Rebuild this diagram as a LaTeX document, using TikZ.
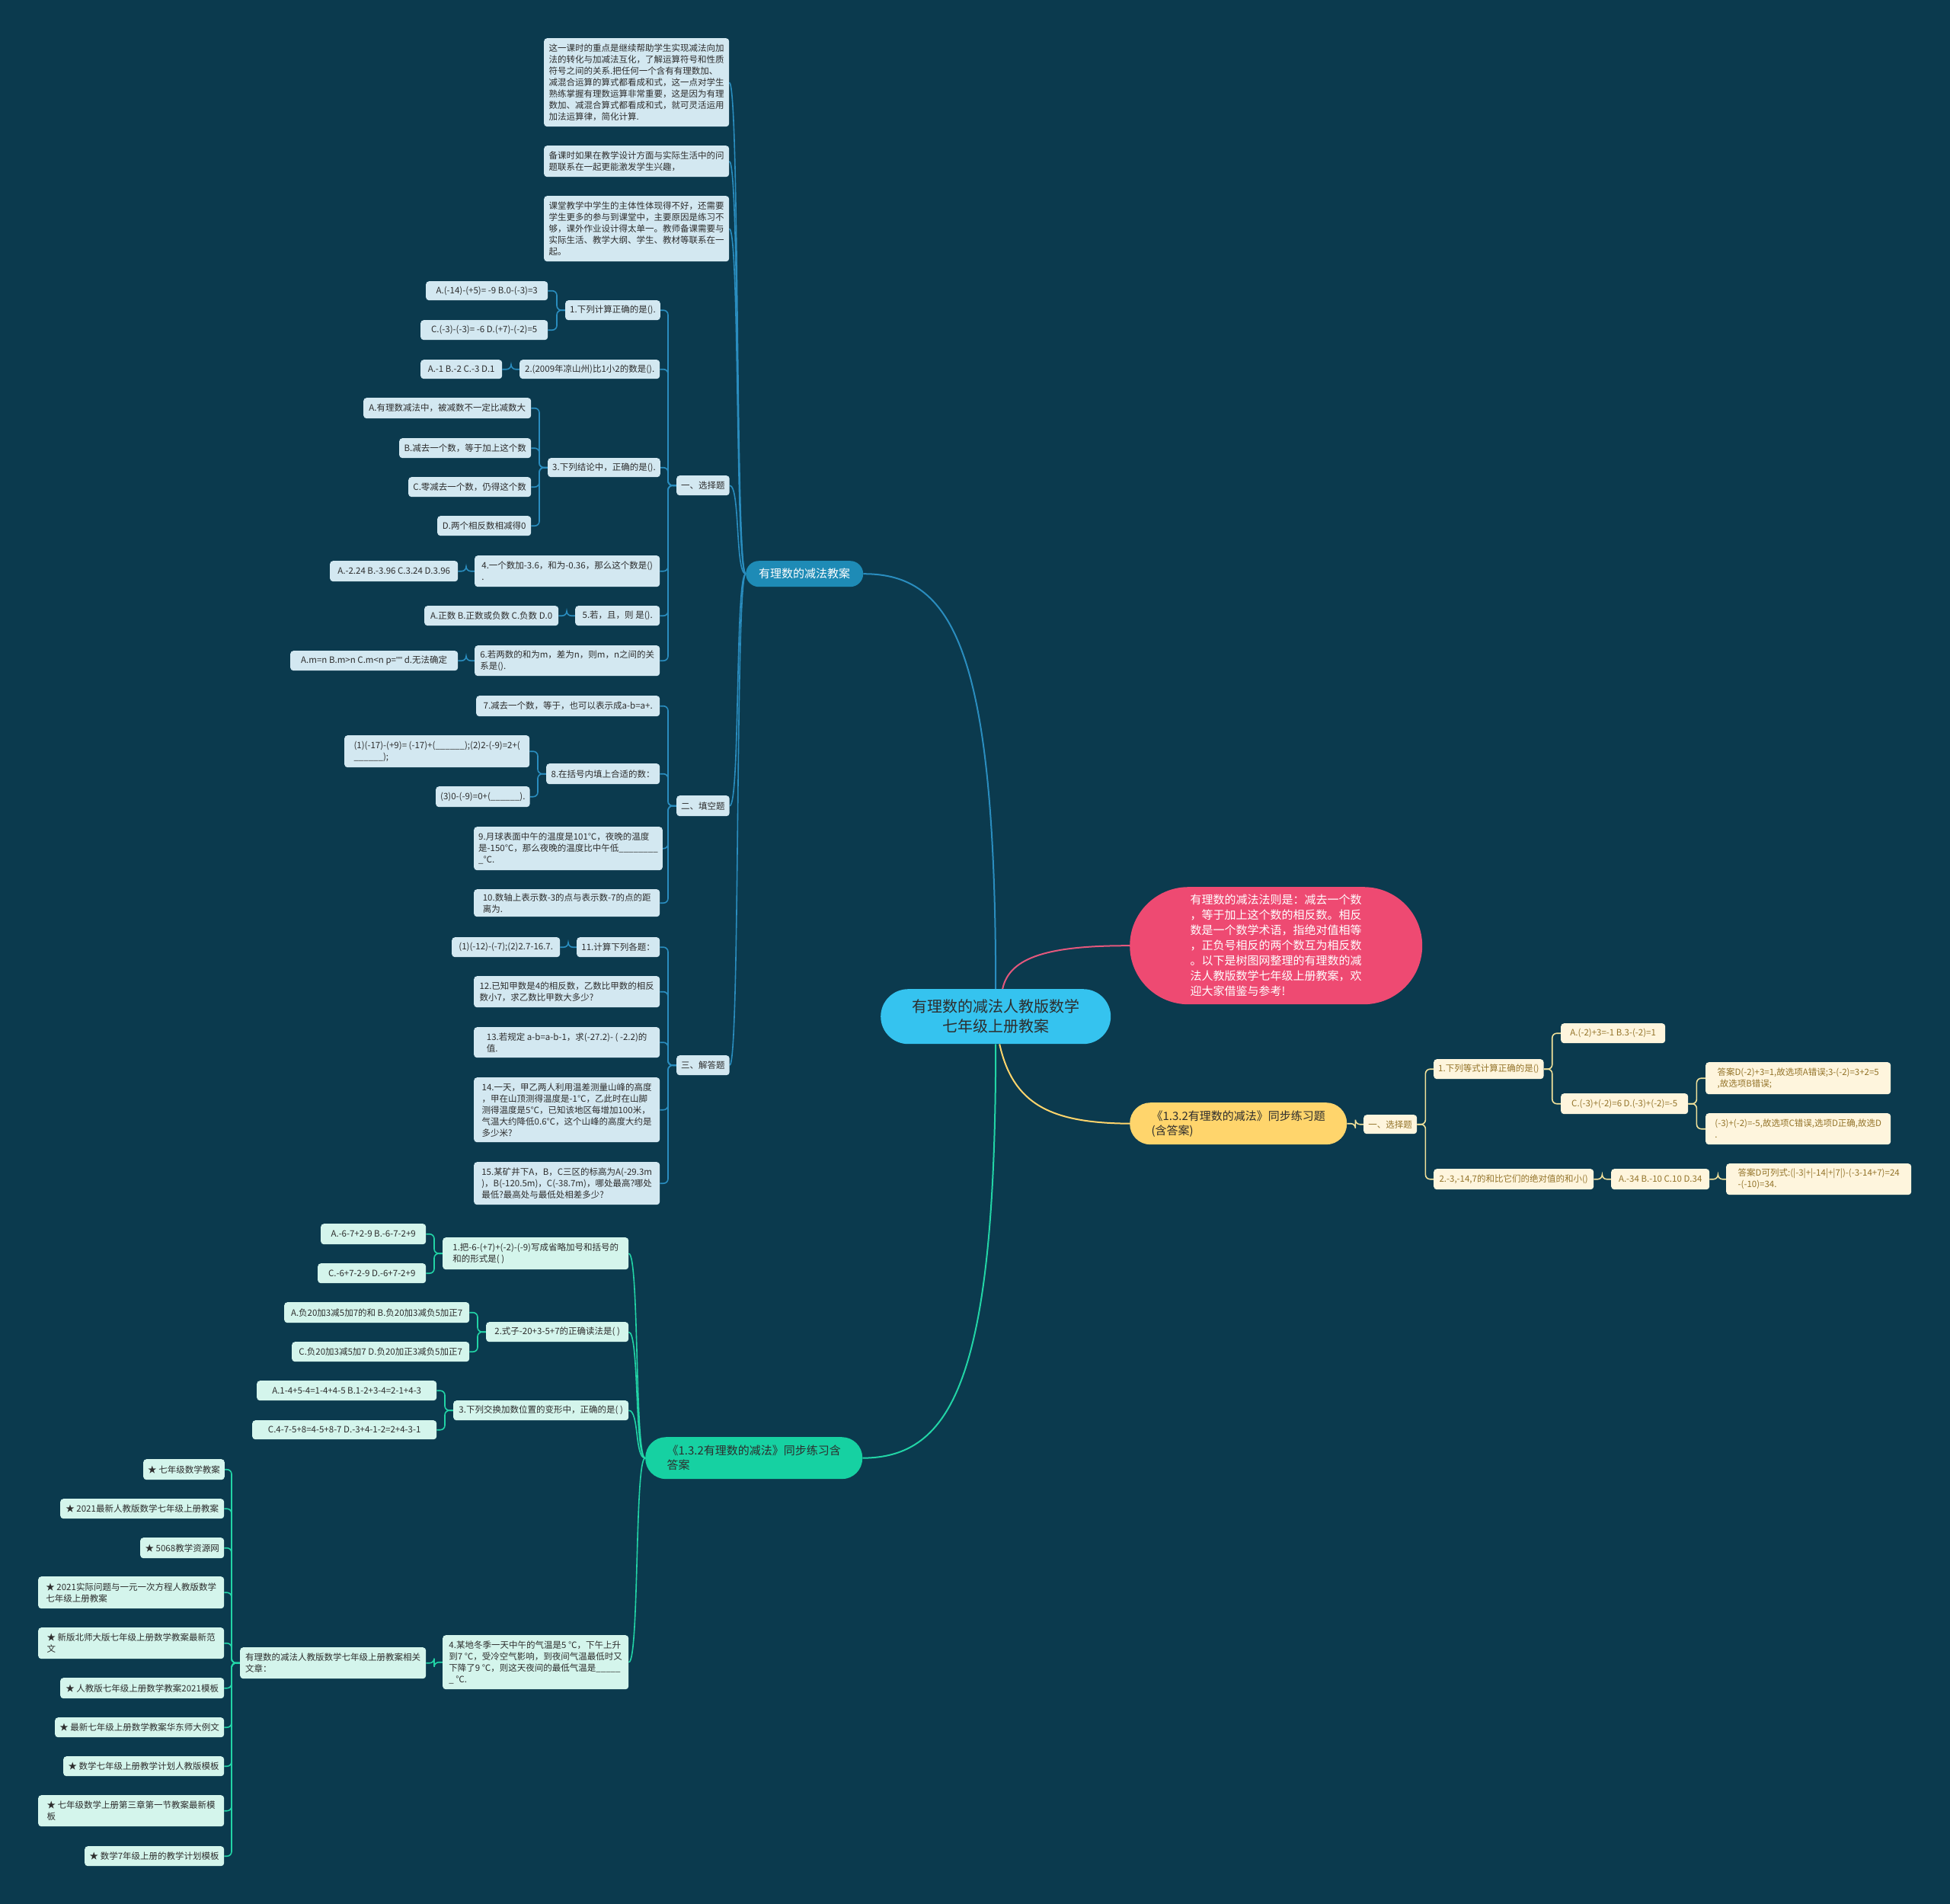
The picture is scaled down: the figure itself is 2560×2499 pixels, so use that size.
\documentclass[tikz,border=0pt]{standalone}
\usepackage{fontspec}
\setmainfont{Noto Sans CJK SC}
\newfontfamily\latq{Liberation Sans}
\usetikzlibrary{calc}
\definecolor{bgc}{HTML}{0B3A4E}
\definecolor{bfill}{HTML}{D3E8F1}
\definecolor{bline}{HTML}{2A8DBF}
\definecolor{bbranch}{HTML}{1E8BB6}
\definecolor{rootc}{HTML}{35C3EF}
\definecolor{pinkc}{HTML}{EE4A72}
\definecolor{pinkline}{HTML}{E4587D}
\definecolor{ymain}{HTML}{FFD56C}
\definecolor{yline}{HTML}{F2E29B}
\definecolor{yfill}{HTML}{FEF5DD}
\definecolor{ytext}{HTML}{94742A}
\definecolor{gmain}{HTML}{16D1A2}
\definecolor{gline}{HTML}{22D4A6}
\definecolor{gfill}{HTML}{D4F5EC}
\definecolor{tdark}{HTML}{2D2D2D}
\pgfdeclarelayer{back}
\pgfsetlayers{back,main}
\newcommand\mnode[7][]{\pgfmathsetmacro\mnw{#5-#3}\pgfmathsetmacro\mnh{#6-#4}%
  \node[#1,anchor=north west,minimum width=\mnw pt,minimum height=\mnh pt] (#2) at (#3,#4) {#7};}
\newcommand\elL[3][]{\draw[#1] (#2.west) -- ++(-11,0) |- (#3.east);}
\newcommand\elR[3][]{\draw[#1] (#2.east) -- ++(11,0) |- (#3.west);}
\newcommand\cvL[3][]{\draw[#1] (#2.west) .. controls +(-14,0) and +(14,0) .. (#3.east);}
\begin{document}
\begin{tikzpicture}[x=1pt,y=-1pt,
  every node/.style={inner xsep=6pt,inner ysep=3pt,font=\fontsize{11.5}{15}\selectfont,align=left,text=tdark},
  bn/.style={fill=bfill,rounded corners=4pt},
  gn/.style={fill=gfill,rounded corners=4pt},
  yn/.style={fill=yfill,rounded corners=4pt,text=ytext},
  bl/.style={draw=bline,line width=1.6pt,rounded corners=6pt},
  gl/.style={draw=gline,line width=1.6pt,rounded corners=6pt},
  yl/.style={draw=yline,line width=1.6pt,rounded corners=6pt},
]
\useasboundingbox (0,0) rectangle (2560,2499);
% main nodes
\mnode[fill=rootc,rounded corners=36pt,align=center,font=\fontsize{20}{26}\selectfont,text=tdark]{root}{1156}{1298}{1458}{1370}{有理数的减法人教版数学\\七年级上册教案}
\mnode[fill=pinkc,rounded corners=77pt,text=white,font=\fontsize{15}{20}\selectfont]{pk}{1483}{1164}{1867}{1318}{有理数的减法法则是：减去一个数\\，等于加上这个数的相反数。相反\\数是一个数学术语，指绝对值相等\\，正负号相反的两个数互为相反数\\。以下是树图网整理的有理数的减\\法人教版数学七年级上册教案，欢\\迎大家借鉴与参考!}
\mnode[fill=ymain,rounded corners=27pt,font=\fontsize{15}{19}\selectfont]{ym}{1483}{1447}{1768}{1502}{《1.3.2有理数的减法》同步练习题\\(含答案)}
\mnode[fill=bbranch,rounded corners=17pt,text=white,font=\fontsize{15}{19}\selectfont]{bb}{979}{736}{1133}{770}{有理数的减法教案}
\mnode[fill=gmain,rounded corners=27pt,font=\fontsize{15}{19}\selectfont]{gb}{847}{1886}{1132}{1941}{《1.3.2有理数的减法》同步练习含\\答案}
% blue branch
\mnode[bn]{t1}{714}{50}{957}{166}{这一课时的重点是继续帮助学生实现减法向加\\法的转化与加减法互化，了解运算符号和性质\\符号之间的关系.把任何一个含有有理数加、\\减混合运算的算式都看成和式，这一点对学生\\熟练掌握有理数运算非常重要，这是因为有理\\数加、减混合算式都看成和式，就可灵活运用\\加法运算律，简化计算.}
\mnode[bn]{t2}{714}{191}{957}{232}{备课时如果在教学设计方面与实际生活中的问\\题联系在一起更能激发学生兴趣，}
\mnode[bn]{t3}{714}{257}{957}{343}{课堂教学中学生的主体性体现得不好，还需要\\学生更多的参与到课堂中，主要原因是练习不\\够，课外作业设计得太单一。教师备课需要与\\实际生活、教学大纲、学生、教材等联系在一\\起。}
\mnode[bn]{s1}{888}{624}{957}{650}{一、选择题}
\mnode[bn]{q1}{742}{394}{866}{420}{1.下列计算正确的是().}
\mnode[bn]{q1a}{559}{369}{719}{394}{A.(-14)-(+5)= -9 B.0-(-3)=3}
\mnode[bn]{q1c}{552}{420}{719}{446}{C.(-3)-(-3)= -6 D.(+7)-(-2)=5}
\mnode[bn]{q2}{682}{472}{866}{497}{2.(2009年凉山州)比1小2的数是().}
\mnode[bn]{q2a}{552}{472}{659}{497}{A.-1 B.-2 C.-3 D.1}
\mnode[bn]{q3}{719}{601}{866}{626}{3.下列结论中，正确的是().}
\mnode[bn]{q3a}{477}{522}{697}{549}{A.有理数减法中，被减数不一定比减数大}
\mnode[bn]{q3b}{524}{575}{697}{601}{B.减去一个数，等于加上这个数}
\mnode[bn]{q3c}{536}{626}{697}{652}{C.零减去一个数，仍得这个数}
\mnode[bn]{q3d}{574}{677}{697}{703}{D.两个相反数相减得0}
\mnode[bn]{q4}{623}{729}{866}{770}{4.一个数加-3.6，和为-0.36，那么这个数是()\\.}
\mnode[bn]{q4a}{433}{736}{601}{763}{A.-2.24 B.-3.96 C.3.24 D.3.96}
\mnode[bn]{q5}{755}{795}{866}{821}{5.若，且，则 是().}
\mnode[bn]{q5a}{557}{795}{733}{821}{A.正数 B.正数或负数 C.负数 D.0}
\mnode[bn]{q6}{623}{847}{866}{887}{6.若两数的和为m，差为n，则m，n之间的关\\系是().}
\mnode[bn]{q6a}{381}{854}{601}{880}{A.m=n B.m>n C.m<n p={\latq ""} d.无法确定}
\mnode[bn]{s2}{888}{1044}{957}{1071}{二、填空题}
\mnode[bn]{q7}{625}{913}{866}{940}{7.减去一个数，等于，也可以表示成a-b=a+.}
\mnode[bn]{q8}{717}{1002}{866}{1029}{8.在括号内填上合适的数：}
\mnode[bn]{q8a}{452}{965}{695}{1007}{(1)(-17)-(+9)= (-17)+(\_\_\_\_\_\_);(2)2-(-9)=2+(\\\_\_\_\_\_\_);}
\mnode[bn]{q8b}{572}{1032}{695}{1059}{(3)0-(-9)=0+(\_\_\_\_\_\_).}
\mnode[bn]{q9}{622}{1085}{866}{1142}{9.月球表面中午的温度是101℃，夜晚的温度\\是-150℃，那么夜晚的温度比中午低\_\_\_\_\_\_\_\_\\\_℃.}
\mnode[bn]{q10}{622}{1167}{866}{1203}{10.数轴上表示数-3的点与表示数-7的点的距\\离为.}
\mnode[bn]{s3}{888}{1385}{957}{1411}{三、解答题}
\mnode[bn]{q11}{757}{1230}{866}{1256}{11.计算下列各题：}
\mnode[bn]{q11a}{593}{1230}{735}{1256}{(1)(-12)-(-7);(2)2.7-16.7.}
\mnode[bn]{q12}{622}{1281}{866}{1322}{12.已知甲数是4的相反数，乙数比甲数的相反\\数小7，求乙数比甲数大多少?}
\mnode[bn]{q13}{622}{1348}{866}{1388}{13.若规定 a-b=a-b-1，求(-27.2)- ( -2.2)的\\值.}
\mnode[bn]{q14}{622}{1414}{866}{1499}{14.一天，甲乙两人利用温差测量山峰的高度\\，甲在山顶测得温度是-1℃，乙此时在山脚\\测得温度是5℃，已知该地区每增加100米，\\气温大约降低0.6℃，这个山峰的高度大约是\\多少米?}
\mnode[bn]{q15}{622}{1525}{866}{1581}{15.某矿井下A，B，C三区的标高为A(-29.3m\\)，B(-120.5m)，C(-38.7m)，哪处最高?哪处\\最低?最高处与最低处相差多少?}
% green branch
\mnode[gn]{gq1}{581}{1624}{825}{1666}{1.把-6-(+7)+(-2)-(-9)写成省略加号和括号的\\和的形式是( )}
\mnode[gn]{gq1a}{421}{1606}{559}{1633}{A.-6-7+2-9 B.-6-7-2+9}
\mnode[gn]{gq1c}{417}{1658}{559}{1684}{C.-6+7-2-9 D.-6+7-2+9}
\mnode[gn]{gq2}{638}{1735}{825}{1761}{2.式子-20+3-5+7的正确读法是( )}
\mnode[gn]{gq2a}{373}{1709}{616}{1736}{A.负20加3减5加7的和 B.负20加3减负5加正7}
\mnode[gn]{gq2c}{383}{1761}{616}{1787}{C.负20加3减5加7 D.负20加正3减负5加正7}
\mnode[gn]{gq3}{595}{1838}{825}{1864}{3.下列交换加数位置的变形中，正确的是( )}
\mnode[gn]{gq3a}{337}{1812}{573}{1838}{A.1-4+5-4=1-4+4-5 B.1-2+3-4=2-1+4-3}
\mnode[gn]{gq3c}{331}{1864}{573}{1889}{C.4-7-5+8=4-5+8-7 D.-3+4-1-2=2+4-3-1}
\mnode[gn]{gq4}{581}{2146}{825}{2217}{4.某地冬季一天中午的气温是5 ℃，下午上升\\到7 ℃，受冷空气影响，到夜间气温最低时又\\下降了9 ℃，则这天夜间的最低气温是\_\_\_\_\_\\\_ ℃.}
\mnode[gn]{rel}{315}{2162}{559}{2203}{有理数的减法人教版数学七年级上册教案相关\\文章：}
\mnode[gn]{l1}{188}{1915}{294}{1942}{★ 七年级数学教案}
\mnode[gn]{l2}{79}{1967}{294}{1993}{★ 2021最新人教版数学七年级上册教案}
\mnode[gn]{l3}{184}{2018}{294}{2045}{★ 5068教学资源网}
\mnode[gn]{l4}{50}{2069}{294}{2111}{★ 2021实际问题与一元一次方程人教版数学\\七年级上册教案}
\mnode[gn]{l5}{50}{2136}{294}{2177}{★ 新版北师大版七年级上册数学教案最新范\\文}
\mnode[gn]{l6}{79}{2202}{294}{2229}{★ 人教版七年级上册数学教案2021模板}
\mnode[gn]{l7}{72}{2254}{294}{2280}{★ 最新七年级上册数学教案华东师大例文}
\mnode[gn]{l8}{83}{2305}{294}{2331}{★ 数学七年级上册教学计划人教版模板}
\mnode[gn]{l9}{50}{2356}{294}{2397}{★ 七年级数学上册第三章第一节教案最新模\\板}
\mnode[gn]{l10}{111}{2423}{294}{2449}{★ 数学7年级上册的教学计划模板}
% yellow branch
\mnode[yn]{ys}{1790}{1463}{1860}{1488}{一、选择题}
\mnode[yn]{yq1}{1882}{1390}{2026}{1416}{1.下列等式计算正确的是()}
\mnode[yn]{yq2}{1882}{1534}{2092}{1561}{2.-3,-14,7的和比它们的绝对值的和小()}
\mnode[yn]{yq1a}{2049}{1343}{2186}{1369}{A.(-2)+3=-1 B.3-(-2)=1}
\mnode[yn]{yq1c}{2049}{1435}{2216}{1462}{C.(-3)+(-2)=6 D.(-3)+(-2)=-5}
\mnode[yn]{ya1}{2239}{1394}{2482}{1436}{答案D(-2)+3=1,故选项A错误;3-(-2)=3+2=5\\,故选项B错误;}
\mnode[yn]{ya2}{2239}{1461}{2482}{1502}{(-3)+(-2)=-5,故选项C错误,选项D正确,故选D\\.}
\mnode[yn]{yq2a}{2115}{1534}{2244}{1561}{A.-34 B.-10 C.10 D.34}
\mnode[yn]{yq2b}{2266}{1527}{2509}{1568}{答案D可列式:(|-3|+|-14|+|7|)-(-3-14+7)=24\\-(-10)=34.}
\begin{pgfonlayer}{back}
\fill[bgc] (0,0) rectangle (2560,2499);
% root connectors
\draw[draw=bline,line width=2pt] (root.north) .. controls (1307,850) and (1250,753) .. (bb.east);
\draw[draw=pinkline,line width=2pt] ($(root.north)+(9,0)$) .. controls (1325,1255) and (1380,1241) .. (pk.west);
\draw[draw=ymain,line width=2pt] ($(root.south)+(5,0)$) .. controls (1330,1450) and (1380,1474) .. (ym.west);
\draw[draw=gline,line width=2pt] (root.south) .. controls (1307,1810) and (1250,1913) .. (gb.east);
% blue
\foreach \c in {t1,t2,t3,s1,s2,s3} {\cvL[bl]{bb}{\c}}
\foreach \c in {q1,q2,q3,q4,q5,q6} {\elL[bl]{s1}{\c}}
\foreach \c in {q7,q8,q9,q10} {\elL[bl]{s2}{\c}}
\foreach \c in {q11,q12,q13,q14,q15} {\elL[bl]{s3}{\c}}
\elL[bl]{q1}{q1a}\elL[bl]{q1}{q1c}\elL[bl]{q2}{q2a}
\foreach \c in {q3a,q3b,q3c,q3d} {\elL[bl]{q3}{\c}}
\elL[bl]{q4}{q4a}\elL[bl]{q5}{q5a}\elL[bl]{q6}{q6a}
\elL[bl]{q8}{q8a}\elL[bl]{q8}{q8b}\elL[bl]{q11}{q11a}
% green
\foreach \c in {gq1,gq2,gq3,gq4} {\cvL[gl]{gb}{\c}}
\elL[gl]{gq1}{gq1a}\elL[gl]{gq1}{gq1c}
\elL[gl]{gq2}{gq2a}\elL[gl]{gq2}{gq2c}
\elL[gl]{gq3}{gq3a}\elL[gl]{gq3}{gq3c}
\elL[gl]{gq4}{rel}
\foreach \c in {l1,l2,l3,l4,l5,l6,l7,l8,l9,l10} {\elL[gl]{rel}{\c}}
% yellow
\elR[yl]{ym}{ys}
\elR[yl]{ys}{yq1}\elR[yl]{ys}{yq2}
\elR[yl]{yq1}{yq1a}\elR[yl]{yq1}{yq1c}
\elR[yl]{yq1c}{ya1}\elR[yl]{yq1c}{ya2}
\elR[yl]{yq2}{yq2a}\elR[yl]{yq2a}{yq2b}
\end{pgfonlayer}
\end{tikzpicture}
\end{document}
